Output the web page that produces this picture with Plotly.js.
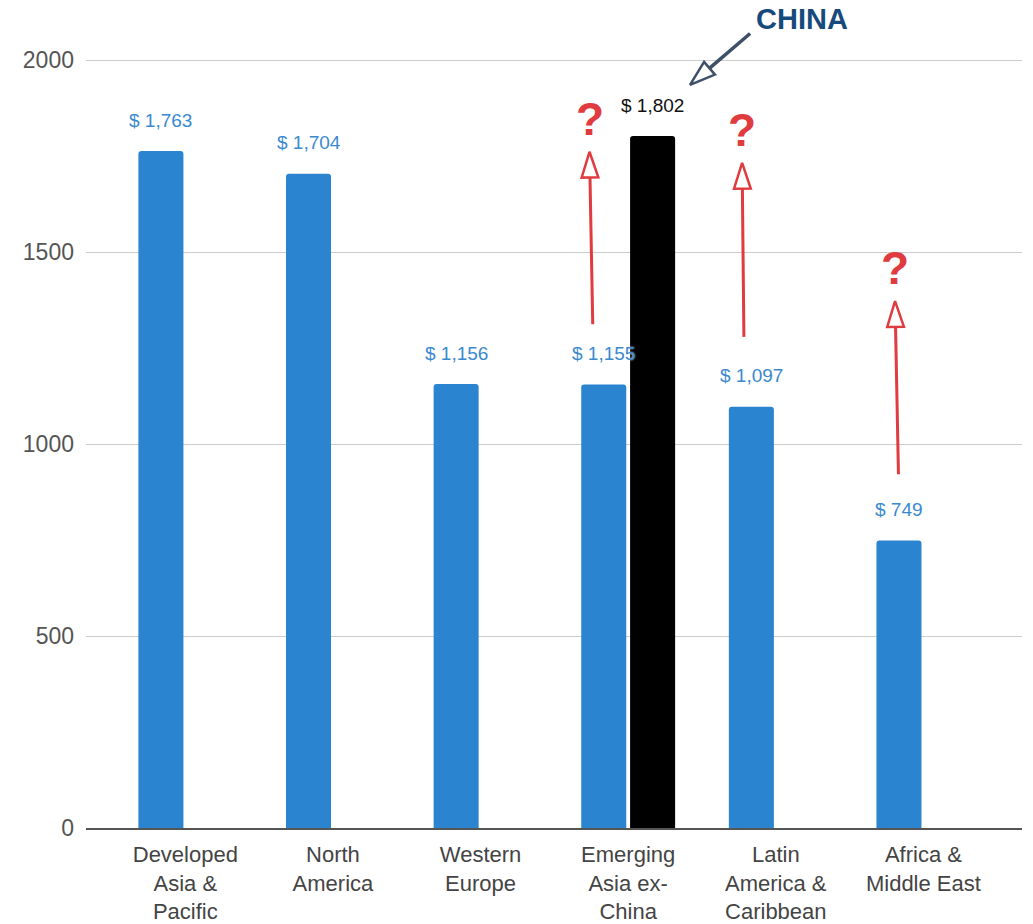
<!DOCTYPE html>
<html><head><meta charset="utf-8">
<script src="https://cdn.plot.ly/plotly-3.0.1.min.js"></script>
<style>html,body{margin:0;padding:0;background:#fff}#chart{width:1033px;height:924px}</style>
</head><body><div id="chart"></div>
<script>
// ---- data ----
const categories = ["Developed<br>Asia &<br>Pacific", "North<br>America", "Western<br>Europe",
  "Emerging<br>Asia ex-<br>China", "Latin<br>America &<br>Caribbean", "Africa &<br>Middle East"];
const regionValues = [1763, 1704, 1156, 1155, 1097, 749];
const chinaCategory = [3];
const chinaValues = [1802];
const yTickValues = [0, 500, 1000, 1500, 2000];
// red "?" arrows: category, start value, end value
const arrowCategory = [3, 4, 5];
const arrowStart = [1312, 1279, 921];
const arrowEnd = [1761, 1732, 1372];
const arrowStartShift = [-0.24, -0.216, -0.169];
const arrowEndShift = [-0.262, -0.228, -0.192];
// CHINA callout
const calloutText = "CHINA";
const calloutFrom = [3.826, 2069];
const calloutTo = [3.419, 1935];
const calloutLabelPos = [4.178, 2107];

// ---- style ----
const FONT = "Arial, 'Liberation Sans', sans-serif";
const BLUE = "#2a84d0", LABEL_BLUE = "#3a89cf", RED = "#e03b3e", NAVY = "#174a7c", SLATE = "#3e4f68";
const BAR_W = 0.305, BLUE_OFF = -0.318, BLACK_OFF = 0.013;
const idx = categories.map((_, i) => i);
const fmt = v => "$ " + v.toLocaleString("en-US");

const traces = [
  { type: "bar", x: idx, y: regionValues, width: BAR_W, offset: BLUE_OFF,
    marker: { color: BLUE, cornerradius: 3 }, hoverinfo: "skip", showlegend: false },
  { type: "bar", x: chinaCategory, y: chinaValues, width: BAR_W, offset: BLACK_OFF,
    marker: { color: "#000000", cornerradius: 3 }, hoverinfo: "skip", showlegend: false }
];

arrowCategory.forEach((c, k) => {
  traces.push({ type: "scatter", mode: "lines+markers",
    x: [c + arrowStartShift[k], c + arrowEndShift[k]], y: [arrowStart[k], arrowEnd[k]],
    line: { color: RED, width: 3 },
    marker: { symbol: "arrow", angleref: "previous", size: 27, color: "#ffffff",
      line: { color: RED, width: 2.5 } },
    cliponaxis: false, hoverinfo: "skip", showlegend: false });
});
traces.push({ type: "scatter", mode: "lines+markers",
  x: [calloutFrom[0], calloutTo[0]], y: [calloutFrom[1], calloutTo[1]],
  line: { color: SLATE, width: 3.5 },
  marker: { symbol: "arrow", angleref: "previous", size: 27, color: "#ffffff",
    line: { color: SLATE, width: 2.5 } },
  cliponaxis: false, hoverinfo: "skip", showlegend: false });

const annotations = [];
regionValues.forEach((v, i) => {
  annotations.push({ x: i + BLUE_OFF + BAR_W / 2, y: v, yshift: 31, text: fmt(v),
    showarrow: false, xanchor: "center", yanchor: "middle",
    font: { family: FONT, size: 19, color: LABEL_BLUE, shadow: "0px 0px 2px #ffffff" } });
});
chinaCategory.forEach((c, k) => {
  annotations.push({ x: c + BLACK_OFF + BAR_W / 2, y: chinaValues[k], yshift: 31, text: fmt(chinaValues[k]),
    showarrow: false, xanchor: "center", yanchor: "middle",
    font: { family: FONT, size: 19, color: "#111111" } });
});
arrowCategory.forEach((c, k) => {
  annotations.push({ x: c + arrowEndShift[k], y: arrowEnd[k], yshift: 33, text: "?",
    showarrow: false, xanchor: "center", yanchor: "middle",
    font: { family: FONT, size: 46, color: RED, weight: 900 } });
});
annotations.push({ x: calloutLabelPos[0], y: calloutLabelPos[1], text: calloutText,
  showarrow: false, xanchor: "center", yanchor: "middle",
  font: { family: FONT, size: 29, color: NAVY, weight: 900 } });

const layout = {
  width: 1033, height: 924,
  margin: { l: 86, r: 11, t: 0, b: 96, pad: 0 },
  paper_bgcolor: "#ffffff", plot_bgcolor: "#ffffff",
  barmode: "overlay", hovermode: false, showlegend: false,
  font: { family: FONT },
  xaxis: { type: "linear", range: [-0.673, 5.668], tickvals: idx, ticktext: categories,
    tickangle: 0, showgrid: false, zeroline: false, showline: true, linecolor: "#555555",
    linewidth: 1.5, ticks: "", ticklabelstandoff: 6,
    tickfont: { family: FONT, size: 22, color: "#444444" } },
  yaxis: { range: [0, 2156.25], tickvals: yTickValues, ticktext: yTickValues.map(String),
    showgrid: true, gridcolor: "#cccccc", gridwidth: 1, zeroline: false, showline: false,
    ticks: "", ticklabelstandoff: 11, tickfont: { family: FONT, size: 23, color: "#555555" } },
  annotations: annotations
};

Plotly.newPlot("chart", traces, layout, { displayModeBar: false, staticPlot: true });
</script>
</body></html>
